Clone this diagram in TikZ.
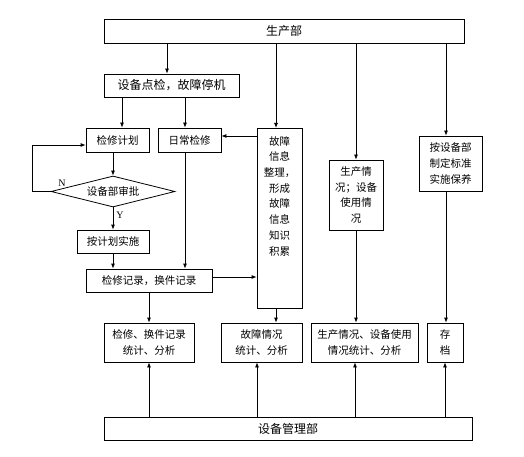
\documentclass[tikz,border=0pt]{standalone}
\usepackage{fontspec}
\setmainfont{Noto Sans CJK SC}
\newfontfamily\latinfont{Liberation Serif}
\usetikzlibrary{arrows.meta,shapes.geometric}
\begin{document}
\begin{tikzpicture}[x=1pt,y=-1pt,
  box/.style={draw,line width=0.8pt,inner sep=1pt,align=center,font=\fontsize{10.5}{15.7}\selectfont},
  bigbox/.style={box,font=\fontsize{12}{14}\selectfont},
  arr/.style={line width=0.8pt,-{Latex[length=5pt,width=4pt]}},
  ln/.style={line width=0.8pt},
  lbl/.style={font=\latinfont\fontsize{10}{12}\selectfont,inner sep=0pt}]
\useasboundingbox (0,0) rectangle (524,457);
% nodes
\node[bigbox,minimum width=360pt,minimum height=24pt] (top) at (284,31) {生产部};
\node[bigbox,minimum width=135pt,minimum height=23pt] (check) at (171.5,85.5) {设备点检，故障停机};
\node[box,minimum width=63pt,minimum height=24pt] (plan) at (117.5,140) {检修计划};
\node[box,minimum width=63pt,minimum height=24pt] (daily) at (189.5,140) {日常检修};
\node[box,diamond,shape aspect=4,inner sep=0pt,minimum width=124pt,minimum height=31pt] (dia) at (113,191.5) {设备部审批};
\node[box,minimum width=72pt,minimum height=23pt] (exec) at (113,241.5) {按计划实施};
\node[box,minimum width=126pt,minimum height=23pt] (rec) at (149,280.5) {检修记录，换件记录};
\node[box,minimum width=45pt,minimum height=164pt,anchor=north,inner sep=0pt] (fault) at (279.5,128) {\rule{0pt}{6pt}\\[-5pt]故障\\信息\\整理，\\形成\\故障\\信息\\知识\\积累\\[38pt]};
\node[box,minimum width=54pt,minimum height=70pt] (prod) at (356,195) {生产情\\况；设备\\使用情\\况};
\node[box,minimum width=63pt,minimum height=55pt] (maint) at (450.5,163.5) {按设备部\\制定标准\\实施保养};
\node[box,minimum width=90pt,minimum height=39pt] (sa) at (149,342.5) {检修、换件记录\\统计、分析};
\node[box,minimum width=81pt,minimum height=39pt] (sb) at (261.5,342.5) {故障情况\\统计、分析};
\node[box,minimum width=107pt,minimum height=39pt] (sc) at (364.5,342.5) {生产情况、设备使用\\情况统计、分析};
\node[box,minimum width=36pt,minimum height=39pt] (sd) at (445,342.5) {存\\档};
\node[bigbox,minimum width=368pt,minimum height=23pt] (mgmt) at (288,428.5) {设备管理部};
\node[lbl] (nlab) at (62,183) {N};
\node[lbl] (ylab) at (120,215) {Y};
% helper coordinates
\coordinate (xa) at (167,0);
\coordinate (xb) at (276,0);
\coordinate (xc) at (446,0);
\coordinate (xd) at (122,0);
\coordinate (xe) at (185,0);
\coordinate (xf) at (257,0);
\coordinate (xg) at (355,0);
\coordinate (xh) at (445,0);
\coordinate (xl) at (32,0);
\coordinate (ya) at (0,136);
\coordinate (yb) at (0,277);
\coordinate (yc) at (0,145);
% connectors
\draw[arr] (top.south -| xa) -- (check.north -| xa);
\draw[arr] (top.south -| xb) -- (fault.north -| xb);
\draw[arr] (top.south -| prod.north) -- (prod.north);
\draw[arr] (top.south -| xc) -- (maint.north -| xc);
\draw[arr] (check.south -| xd) -- (plan.north -| xd);
\draw[arr] (check.south -| xe) -- (daily.north -| xe);
\draw[arr] (fault.west |- ya) -- (daily.east |- ya);
\draw[arr] (plan.south -| dia.north) -- (dia.north);
\draw[arr] (dia.south) -- (exec.north);
\draw[arr] (exec.south) -- (rec.north -| exec.south);
\draw[arr] (daily.south -| xe) -- (rec.north -| xe);
\draw[arr] (dia.west) -- (xl |- dia.west) -- (xl |- yc) -- (plan.west |- yc);
\draw[arr] (rec.east |- yb) -- (fault.west |- yb);
\draw[arr] (rec.south) -- (sa.north);
\draw[arr] (fault.south -| xb) -- (sb.north -| xb);
\draw[arr] (prod.south) -- (sc.north -| prod.south);
\draw[arr] (maint.south -| xc) -- (sd.north -| xc);
\draw[arr] (mgmt.north -| sa.south) -- (sa.south);
\draw[arr] (mgmt.north -| xf) -- (sb.south -| xf);
\draw[arr] (mgmt.north -| xg) -- (sc.south -| xg);
\draw[arr] (mgmt.north -| xh) -- (sd.south -| xh);
\end{tikzpicture}
\end{document}
